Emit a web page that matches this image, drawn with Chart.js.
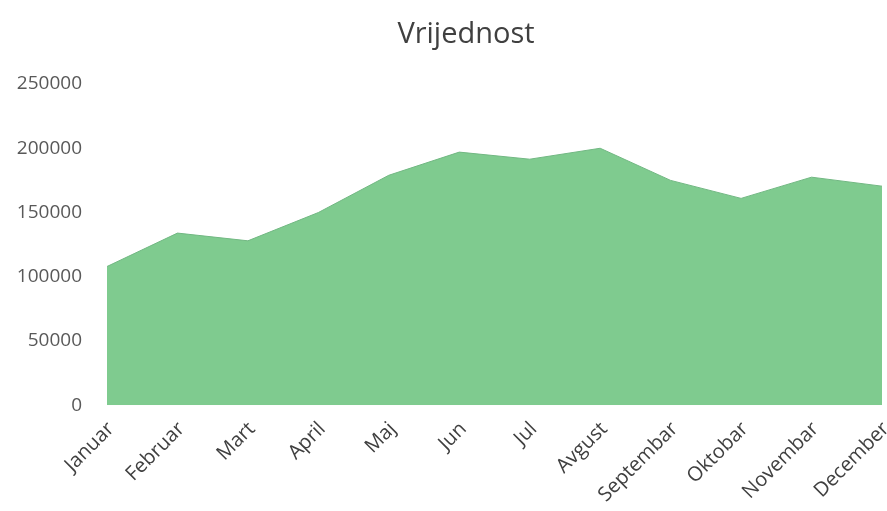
<!DOCTYPE html>
<html>
<head>
<meta charset="utf-8">
<script src="https://cdn.jsdelivr.net/npm/chart.js@4/dist/chart.umd.min.js"></script>
<style>
html,body{margin:0;padding:0;background:#fff;}
#wrap{position:relative;width:887px;height:511px;}
</style>
</head>
<body>
<div id="wrap"><canvas id="c" width="887" height="511"></canvas></div>
<script>
const categories = ["Januar","Februar","Mart","April","Maj","Jun","Jul","Avgust","Septembar","Oktobar","Novembar","December"];
const vrijednost = [108000,134000,128000,150000,179000,197000,191500,200000,175000,161000,177500,170500];
const yTicks = [0,50000,100000,150000,200000,250000];
const chartTitle = 'Vrijednost';

const titlePlugin = {
  id: 'titleText',
  afterDraw(chart) {
    const ctx = chart.ctx;
    ctx.save();
    ctx.font = '29px "Open Sans"';
    ctx.fillStyle = '#404040';
    ctx.textAlign = 'center';
    ctx.textBaseline = 'middle';
    ctx.fillText(chartTitle, 466, 35);
    ctx.restore();
  }
};

new Chart(document.getElementById('c'), {
  type: 'line',
  data: {
    labels: categories,
    datasets: [{
      label: chartTitle,
      data: vrijednost,
      fill: 'origin',
      backgroundColor: '#7fcb8f',
      borderColor: '#72b883',
      borderWidth: 1,
      pointRadius: 0,
      tension: 0
    }]
  },
  plugins: [titlePlugin],
  options: {
    responsive: false,
    animation: false,
    layout: { padding: { left: 0, right: 5, top: 84, bottom: 0 } },
    plugins: {
      legend: { display: false },
      tooltip: { enabled: false },
      title: { display: false }
    },
    scales: {
      x: {
        offset: false,
        grid: { display: false },
        border: { display: false },
        afterFit: (s) => { s.paddingLeft = 0; s.paddingRight = 0; },
        ticks: {
          color: '#404040',
          font: { family: 'Open Sans', size: 20 },
          minRotation: 45,
          maxRotation: 45,
          autoSkip: false,
          padding: 4,
          labelOffset: 4
        }
      },
      y: {
        min: 0,
        max: 250000,
        afterBuildTicks: (axis) => { axis.ticks = yTicks.map(v => ({ value: v })); },
        afterFit: (s) => { s.width = 107; },
        grid: { display: false },
        border: { display: false },
        ticks: {
          color: '#595959',
          font: { family: 'Open Sans', size: 19 },
          padding: 17,
          callback: (v) => String(v)
        }
      }
    }
  }
});
</script>
</body>
</html>
